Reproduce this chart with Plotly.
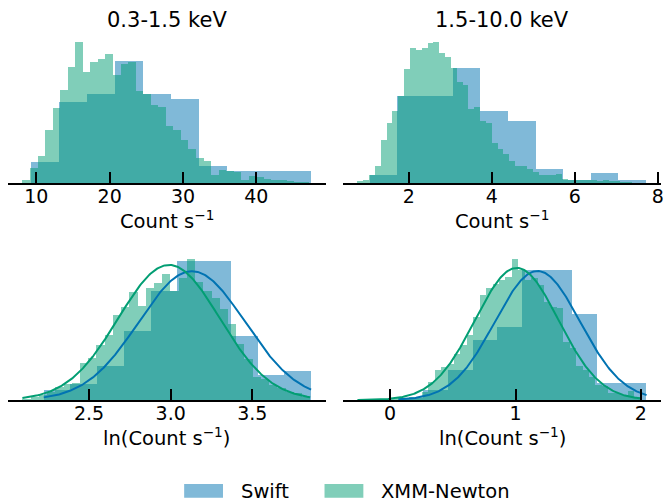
import numpy as np
import plotly.graph_objects as go

# ---------------------------------------------------------------------------
# Count-rate distributions of the source seen by Swift and XMM-Newton.
# Histograms are density-normalised; each is given by its (min, max) range
# and the density of each equal-width bin.
# ---------------------------------------------------------------------------

# 0.3-1.5 keV, linear count rate
soft_swift_range = (9.23, 47.47)
soft_swift_density = [0.0103, 0.0395, 0.0438, 0.0600, 0.0438, 0.0413,
                      0.0082, 0.0060, 0.0060, 0.0060]
soft_xmm_range = (8.10, 47.20)
soft_xmm_density = [0.0016, 0.0074, 0.0134, 0.0261, 0.0368, 0.0458, 0.0567,
                    0.0691, 0.0542, 0.0592, 0.0608, 0.0634, 0.0531, 0.0583,
                    0.0593, 0.0453, 0.0436, 0.0384, 0.0371, 0.0281, 0.0261,
                    0.0212, 0.0168, 0.0123, 0.0109, 0.0041, 0.0065, 0.0057,
                    0.0052, 0.0016, 0.0033, 0.0028, 0.0021, 0.0013, 0.0016,
                    0.0011, 0.0007, 0.0007]

# 1.5-10.0 keV, linear count rate
hard_swift_range = (1.07, 7.73)
hard_swift_density = [0.025, 0.284, 0.284, 0.378, 0.237, 0.202,
                      0.047, 0.009, 0.033, 0.011]
hard_xmm_range = (0.773, 7.39)
hard_xmm_density = [0.008, 0.011, 0.025, 0.057, 0.142, 0.197, 0.237, 0.286,
                    0.375, 0.443, 0.435, 0.443, 0.459, 0.462, 0.426, 0.413,
                    0.377, 0.331, 0.322, 0.244, 0.249, 0.204, 0.197, 0.131,
                    0.113, 0.096, 0.073, 0.057, 0.055, 0.046, 0.035, 0.025,
                    0.025, 0.027, 0.030, 0.014, 0.011, 0.010, 0.009, 0.009,
                    0.009, 0.005, 0.009, 0.008, 0.005, 0.004, 0.003]

# 0.3-1.5 keV, ln(count rate)
ln_soft_swift_density = [0.095, 0.152, 0.324, 0.657, 1.038, 1.324, 1.324,
                         0.610, 0.238, 0.276]
ln_soft_xmm_density = [0.014, 0.024, 0.048, 0.076, 0.121, 0.152, 0.162,
                       0.352, 0.400, 0.524, 0.619, 0.810, 0.886, 1.029,
                       0.895, 1.067, 1.114, 1.200, 1.038, 1.162, 1.343,
                       1.124, 1.038, 0.971, 0.867, 0.724, 0.533, 0.390,
                       0.219, 0.200, 0.143, 0.114, 0.076, 0.067, 0.029]

# 1.5-10.0 keV, ln(count rate)
ln_hard_swift_density = [0.018, 0.091, 0.273, 0.545, 0.664, 1.182, 1.182,
                         0.782, 0.157, 0.157]
ln_hard_xmm_density = [0.005, 0.0, 0.005, 0.005, 0.009, 0.009, 0.014, 0.018,
                       0.023, 0.027, 0.073, 0.164, 0.273, 0.300, 0.327, 0.418,
                       0.500, 0.591, 0.755, 0.955, 1.018, 1.055, 1.091, 1.118,
                       1.282, 1.182, 1.091, 1.109, 1.045, 0.891, 0.845, 0.836,
                       0.527, 0.473, 0.309, 0.273, 0.209, 0.136, 0.127, 0.064,
                       0.064, 0.045, 0.082, 0.027]

# Normal fits (mean, sigma) to the ln(count rate) samples
ln_soft_swift_fit = (3.13, 0.325)
ln_soft_xmm_fit = (2.99, 0.31)
ln_hard_swift_fit = (1.175, 0.34)
ln_hard_xmm_fit = (1.01, 0.332)

band_titles = ["0.3-1.5 keV", "1.5-10.0 keV"]
soft_ticks = [10, 20, 30, 40]
hard_ticks = [2, 4, 6, 8]
ln_soft_ticks = [2.5, 3.0, 3.5]
ln_hard_ticks = [0, 1, 2]

SWIFT_COLOR = "1,115,178"
XMM_COLOR = "2,158,115"
FONT = "DejaVu Sans"
W, H = 665, 502


def log_range(r):
    return (float(np.log(r[0])), float(np.log(r[1])))


panels = [
    dict(swift=(soft_swift_range, soft_swift_density),
         xmm=(soft_xmm_range, soft_xmm_density),
         ticks=soft_ticks, fmt="{:.0f}", fits=None,
         box=(8, 327, 35.3, 183.3), label="Count s<sup>−1</sup>"),
    dict(swift=(hard_swift_range, hard_swift_density),
         xmm=(hard_xmm_range, hard_xmm_density),
         ticks=hard_ticks, fmt="{:.0f}", fits=None,
         box=(345, 664, 35.3, 183.3), label="Count s<sup>−1</sup>"),
    dict(swift=(log_range(soft_swift_range), ln_soft_swift_density),
         xmm=(log_range(soft_xmm_range), ln_soft_xmm_density),
         ticks=ln_soft_ticks, fmt="{:.1f}",
         fits=(ln_soft_swift_fit, ln_soft_xmm_fit),
         box=(8, 327, 252, 400), label="ln(Count s<sup>−1</sup>)"),
    dict(swift=(log_range(hard_swift_range), ln_hard_swift_density),
         xmm=(log_range(hard_xmm_range), ln_hard_xmm_density),
         ticks=ln_hard_ticks, fmt="{:.0f}",
         fits=(ln_hard_swift_fit, ln_hard_xmm_fit),
         box=(345, 664, 252, 400), label="ln(Count s<sup>−1</sup>)"),
]


def hist_bars(rng, dens, color, ax):
    edges = np.linspace(rng[0], rng[1], len(dens) + 1)
    return go.Bar(
        x=(edges[:-1] + edges[1:]) / 2, y=dens, width=np.diff(edges),
        marker=dict(color=f"rgba({color},0.5)", line=dict(width=0)),
        xaxis=f"x{ax}", yaxis=f"y{ax}", showlegend=False, hoverinfo="skip",
    )


def normal_pdf(x, mu, sigma):
    return np.exp(-0.5 * ((x - mu) / sigma) ** 2) / (sigma * np.sqrt(2 * np.pi))


fig = go.Figure()
layout = dict(
    width=W, height=H, margin=dict(l=0, r=0, t=0, b=0),
    paper_bgcolor="white", plot_bgcolor="white",
    barmode="overlay", bargap=0,
    font=dict(family=FONT, color="black"),
    annotations=[], shapes=[],
)

for i, p in enumerate(panels, start=1):
    ax = "" if i == 1 else str(i)
    ymax = max(max(p["swift"][1]), max(p["xmm"][1]))
    lo = min(p["swift"][0][0], p["xmm"][0][0])
    hi = max(p["swift"][0][1], p["xmm"][0][1])

    fig.add_trace(hist_bars(*p["swift"], SWIFT_COLOR, ax))
    fig.add_trace(hist_bars(*p["xmm"], XMM_COLOR, ax))

    if p["fits"]:
        for (mu, sig), (rng, _), col in zip(p["fits"], (p["swift"], p["xmm"]),
                                            (SWIFT_COLOR, XMM_COLOR)):
            xs = np.linspace(rng[0], rng[1], 300)
            ys = normal_pdf(xs, mu, sig)
            ymax = max(ymax, ys.max())
            fig.add_trace(go.Scatter(
                x=xs, y=ys, mode="lines", line=dict(color=f"rgb({col})", width=2),
                xaxis=f"x{ax}", yaxis=f"y{ax}", showlegend=False, hoverinfo="skip",
            ))

    pad = 0.05 * (hi - lo)
    x0, x1, ytop, ybot = p["box"]
    layout[f"xaxis{ax}"] = dict(
        domain=[x0 / W, x1 / W], range=[lo - pad, hi + pad], anchor=f"y{ax}",
        showgrid=False, zeroline=False, showline=True, linecolor="black",
        linewidth=1.8, ticks="inside", ticklen=11, tickwidth=2, tickcolor="black",
        tickmode="array", tickvals=p["ticks"],
        ticktext=[p["fmt"].format(t) for t in p["ticks"]],
        tickfont=dict(family=FONT, size=19, color="black"),
        ticklabelstandoff=-5, ticklabeloverflow="allow", layer="above traces",
    )
    layout[f"yaxis{ax}"] = dict(
        domain=[1 - ybot / H, 1 - ytop / H], range=[0, 1.05 * ymax],
        anchor=f"x{ax}", visible=False, showgrid=False, zeroline=False,
    )
    layout["annotations"].append(dict(
        x=(x0 + x1) / 2 / W, y=1 - (ybot + 37) / H, xref="paper", yref="paper",
        text=p["label"], showarrow=False, xanchor="center", yanchor="middle",
        font=dict(family=FONT, size=19.5, color="black"),
    ))

# band titles above the top row
for (x0, x1), title in zip([(8, 327), (345, 664)], band_titles):
    layout["annotations"].append(dict(
        x=(x0 + x1) / 2 / W, y=1 - 20 / H, xref="paper", yref="paper",
        text=title, showarrow=False, xanchor="center", yanchor="middle",
        font=dict(family=FONT, size=21, color="black"),
    ))

# legend: colour patches with labels underneath the figure
for (px0, px1, tx), name, col in zip([(185, 224, 240), (326, 365, 381)],
                                     ["Swift", "XMM-Newton"],
                                     [SWIFT_COLOR, XMM_COLOR]):
    layout["shapes"].append(dict(
        type="rect", xref="paper", yref="paper",
        x0=px0 / W, x1=px1 / W, y0=1 - 497.7 / H, y1=1 - 484 / H,
        fillcolor=f"rgba({col},0.5)", line=dict(width=0),
    ))
    layout["annotations"].append(dict(
        x=tx / W, y=1 - 491 / H, xref="paper", yref="paper", text=name,
        showarrow=False, xanchor="left", yanchor="middle",
        font=dict(family=FONT, size=19.5, color="black"),
    ))

fig.update_layout(**layout)
fig.write_html("out.html")
